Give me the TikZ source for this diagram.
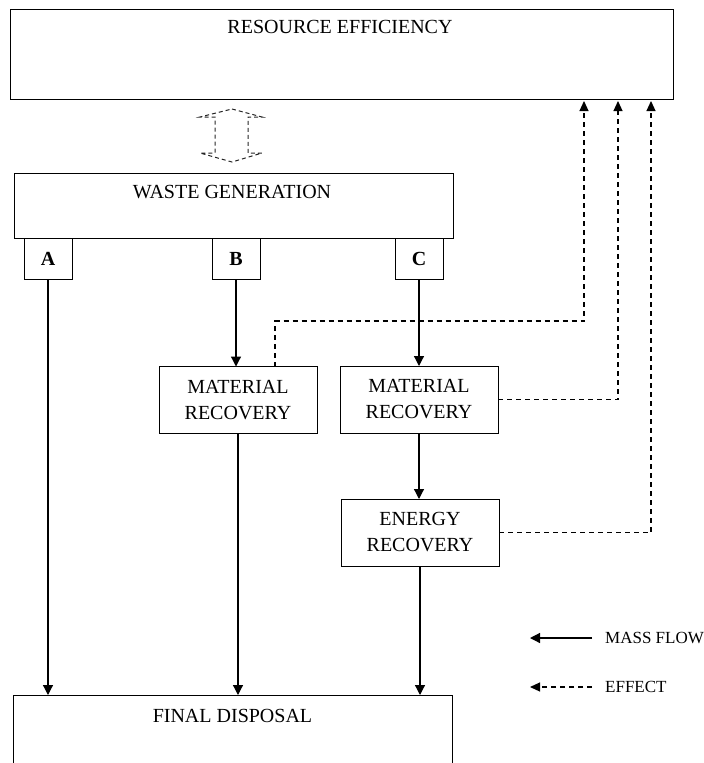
\documentclass[tikz,border=0pt]{standalone}
\usepackage{fontspec}
\setmainfont{Liberation Serif}
\usetikzlibrary{arrows.meta,calc}
\begin{document}
\begin{tikzpicture}[x=1pt,y=-1pt,
  box/.style={draw, line width=1pt, inner sep=0pt, outer sep=0pt, align=center,
    font=\fontsize{20}{26}\selectfont},
  lbl/.style={font=\fontsize{20}{26}\selectfont, anchor=base, inner sep=0pt},
  letter/.style={box, minimum width=48pt, minimum height=41pt, font=\fontsize{20}{24}\selectfont\bfseries},
  recov/.style={box, minimum width=158pt, minimum height=67pt},
  legend/.style={font=\fontsize{17}{20}\selectfont, anchor=west, inner sep=0pt},
  flow/.style={line width=1.2pt, -{Triangle[length=10pt,width=10pt]}},
  effect/.style={line width=1.1pt, dash pattern=on 5pt off 4pt, -{Triangle[length=10pt,width=9pt]}},
]
\useasboundingbox (0,0) rectangle (704,763);

% main blocks
\node[box, minimum width=663pt, minimum height=90pt] (res) at (341.5,54) {};
\node[lbl] (restext) at (340,33) {RESOURCE EFFICIENCY};

\node[box, minimum width=439pt, minimum height=65pt] (waste) at (233.5,205.5) {};
\node[lbl] (wastetext) at (232,198) {WASTE GENERATION};

\node[letter] (A) at (48,258.5) {A};
\node[letter] (B) at (236,258.5) {B};
\node[letter] (C) at (419,258.5) {C};

\node[recov] (matB) at (238,400) {MATERIAL\\RECOVERY};
\node[recov] (matC) at (419,399.5) {MATERIAL\\RECOVERY};
\node[recov] (energy) at (420,532.5) {ENERGY\\RECOVERY};

\node[box, minimum width=439pt, minimum height=110pt] (final) at (232.5,750) {};
\node[lbl] (finaltext) at (232.5,722) {FINAL DISPOSAL};

% dashed two-way link between waste generation and resource efficiency
\draw[line width=1pt, black!85, dash pattern=on 4pt off 3pt]
  (232,109) -- (262,117) -- (248,117) -- (248,153) -- (262,153) -- (232,162)
  -- (200,153) -- (215,153) -- (215,117) -- (200,117) -- cycle;

% mass flows
\draw[flow] (A.south) -- (A.south |- final.north);
\draw[flow] (B.south) -- (B.south |- matB.north);
\draw[flow] (matB.south) -- (matB.south |- final.north);
\draw[flow] (C.south) -- (C.south |- matC.north);
\draw[flow] (matC.south) -- (matC.south |- energy.north);
\draw[flow] (energy.south) -- (energy.south |- final.north);

% effects on resource efficiency
\coordinate (e1) at (584,321);
\coordinate (e2) at (618,0);
\coordinate (e3) at (651,0);
\draw[effect, shorten >=2pt] ([xshift=37pt]matB.north) |- (e1) -- (e1 |- res.south);
\draw[effect, shorten >=2pt] (matC.east) -| (e2 |- res.south);
\draw[effect, shorten >=2pt] (energy.east) -| (e3 |- res.south);

% legend
\node[legend] (mlab) at (605,638) {MASS FLOW};
\node[legend] (elab) at (605,687) {EFFECT};
\draw[flow] ([xshift=-13pt]mlab.west) -- ++(-62,0);
\draw[effect] ([xshift=-13pt]elab.west) -- ++(-62,0);
\end{tikzpicture}
\end{document}
